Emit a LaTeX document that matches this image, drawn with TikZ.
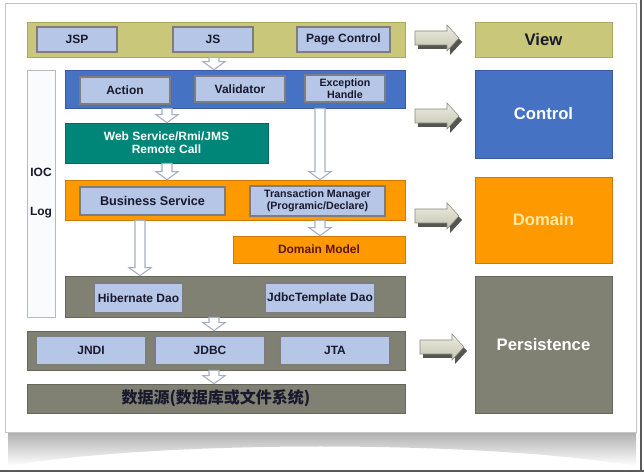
\documentclass[tikz,border=0pt]{standalone}
\usepackage{fontspec}
\usetikzlibrary{calc}
\setmainfont{Liberation Sans}
\newfontfamily\cjk{Noto Sans CJK SC}
\definecolor{viewY}{RGB}{201,199,122}
\definecolor{ctrlB}{RGB}{70,114,196}
\definecolor{tealC}{RGB}{0,134,120}
\definecolor{orangeC}{RGB}{255,153,0}
\definecolor{greyC}{RGB}{128,128,115}
\definecolor{lightB}{RGB}{182,198,230}
\definecolor{boxline}{RGB}{125,125,125}
\definecolor{txt}{RGB}{25,25,45}
\definecolor{dmtext}{RGB}{90,25,0}
\definecolor{domtext}{RGB}{255,232,160}
\definecolor{hollowline}{RGB}{165,175,195}
\definecolor{arrowdark}{RGB}{85,85,80}
\definecolor{arrowtop}{RGB}{236,236,224}
\definecolor{arrowbot}{RGB}{196,198,178}
\newcommand\bx[7]{\node[#6, inner sep=0pt, minimum width={(#4-#2)*0.75pt}, minimum height={(#5-#3)*0.75pt}] (#1) at ({(#2+#4)/2},{(#3+#5)/2}) {#7};}
\newcommand\harrow[3]{\path[hollow] let \p0=(#1,0), \p1=(#2.south), \p2=(#3.north) in
 ({\x0-3.75pt},{\y1}) -- ({\x0+3.75pt},{\y1}) -- ({\x0+3.75pt},{\y2+6pt}) -- ({\x0+8.25pt},{\y2+6pt}) -- (\x0,\y2) -- ({\x0-8.25pt},{\y2+6pt}) -- ({\x0-3.75pt},{\y2+6pt}) -- cycle;}
\newcommand\blockarrow[1]{\begin{scope}[shift={(#1)}]
 \fill[arrowdark] (3,-3) -- (35,-3) -- (35,-9) -- (47,4) -- (35,17) -- (35,11) -- (3,11) -- cycle;
 \shade[top color=arrowtop, bottom color=arrowbot, draw=arrowbot!70!black, line width=0.4pt] (0,-7) -- (32,-7) -- (32,-13) -- (44,0) -- (32,13) -- (32,7) -- (0,7) -- cycle;
 \end{scope}}
\tikzset{
 x=0.75pt, y=-0.75pt,
 every node/.style={font=\bfseries\fontsize{9}{10}\selectfont, text=txt, align=center},
 ybar/.style={fill=viewY, draw=viewY!85!black, line width=0.5pt},
 bbar/.style={fill=ctrlB, draw=ctrlB!80!black, line width=0.5pt},
 obar/.style={fill=orangeC, draw=orangeC!80!black, line width=0.5pt},
 gbar/.style={fill=greyC, draw=greyC!80!black, line width=0.5pt},
 tealbox/.style={fill=tealC, draw=tealC!80!black, line width=0.5pt, text=white},
 ibox/.style={fill=lightB, draw=boxline, line width=0.9pt},
 smalltext/.style={font=\bfseries\fontsize{8}{9}\selectfont},
 bigtext/.style={font=\bfseries\fontsize{12.5}{14}\selectfont},
 sidebox/.style={fill=white!93!lightB, draw=gray!55, line width=0.6pt},
 hollow/.style={fill=white, draw=hollowline, line width=0.8pt},
}
\begin{document}
\begin{tikzpicture}
\useasboundingbox (0,0) rectangle (644,474);
\fill[white] (0,0) rectangle (644,474);
% shadow and card
\shade[top color=gray!70, bottom color=white] (8,428) -- (636,428) -- (636,466) .. controls (480,440) and (160,440) .. (8,466) -- cycle;
\draw[gray!45, fill=white, line width=0.6pt] (5,3) rectangle (636,432);
\draw[gray!70!black, line width=1.2pt] (0,471) -- (644,471);
\draw[gray!70!black, line width=1.2pt] (641,0) -- (641,471);
% View layer
\bx{view}{27}{22}{405}{57}{ybar}{}
\bx{jsp}{37}{27}{117}{52}{ibox}{JSP}
\bx{js}{173}{27}{253}{52}{ibox}{JS}
\bx{page}{297}{27}{390}{52}{ibox}{Page Control}
% side panel
\bx{side}{27}{70}{55}{317}{sidebox}{}
\node (ioc) at (41,172) {IOC};
\node (log) at (41,213) {Log};
% Control layer
\bx{ctrl}{65}{70}{405}{108}{bbar}{}
\bx{action}{80}{77}{170}{104}{ibox}{Action}
\bx{valid}{195}{76}{285}{102}{ibox}{Validator}
\bx{exc}{305}{75}{385}{102}{ibox,smalltext}{Exception\\Handle}
\bx{remote}{65}{123}{268}{163}{tealbox}{Web Service/Rmi/JMS\\Remote Call}
% Domain layer
\bx{dom}{65}{180}{405}{220}{obar}{}
\bx{bs}{80}{187}{225}{215}{ibox,font=\bfseries\fontsize{9.5}{11}\selectfont}{Business Service}
\bx{tm}{250}{186}{385}{216}{ibox,smalltext}{Transaction Manager\\(Programic/Declare)}
\bx{dm}{233}{236}{405}{263}{obar,text=dmtext}{Domain Model}
% Persistence layer
\bx{dao}{65}{276}{405}{317}{gbar}{}
\bx{hib}{94}{283}{183}{313}{ibox}{Hibernate Dao}
\bx{jdbct}{265}{283}{375}{313}{ibox}{JdbcTemplate Dao}
\bx{res}{27}{331}{405}{370}{gbar}{}
\bx{jndi}{36}{336}{146}{365}{ibox}{JNDI}
\bx{jdbc}{155}{336}{265}{365}{ibox}{JDBC}
\bx{jta}{280}{336}{390}{365}{ibox}{JTA}
\bx{ds}{27}{384}{405}{413}{gbar,font=\cjk\bfseries\fontsize{12}{14}\selectfont}{数据源(数据库或文件系统)}
% hollow arrows
\harrow{214}{view}{ctrl}
\harrow{167}{ctrl}{remote}
\harrow{320}{ctrl}{dom}
\harrow{167}{remote}{dom}
\harrow{320}{dom}{dm}
\harrow{140}{dom}{dao}
\harrow{214}{dao}{res}
\harrow{214}{res}{ds}
% right side labels
\bx{rview}{475}{22}{612}{57}{ybar,bigtext}{View}
\bx{rctrl}{475}{70}{612}{158}{bbar,bigtext,text=white}{Control}
\bx{rdom}{475}{177}{612}{263}{obar,bigtext,text=domtext}{Domain}
\bx{rpers}{475}{276}{612}{413}{gbar,bigtext,text=white}{Persistence}
% block arrows
\coordinate (a1) at (415,38);
\coordinate (a2) at (415,116);
\coordinate (a3) at (415,216);
\coordinate (a4) at (420,347);
\blockarrow{a1}
\blockarrow{a2}
\blockarrow{a3}
\blockarrow{a4}
\end{tikzpicture}
\end{document}
